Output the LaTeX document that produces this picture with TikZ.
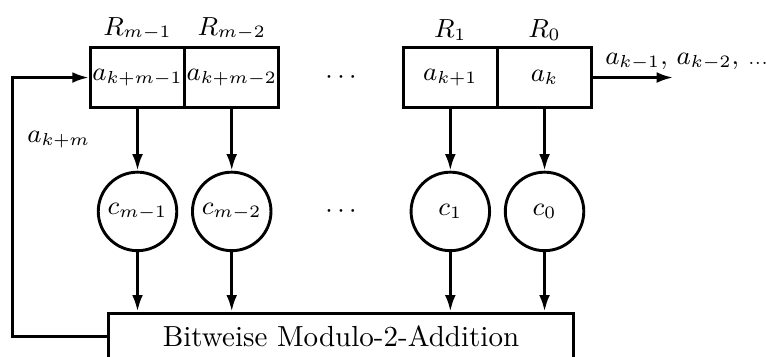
\documentclass[tikz,border=0pt]{standalone}
\usetikzlibrary{positioning,arrows.meta,calc}
\tikzset{
  regcell/.style={draw, line width=1pt, minimum width=1.14cm, minimum height=0.72cm, inner xsep=0pt, inner ysep=1pt},
  coefnode/.style={draw, circle, line width=1pt, minimum size=0.95cm, inner sep=0pt},
  sumbox/.style={draw, line width=1pt, font=\normalsize, minimum width=5.63cm, minimum height=0.56cm},
  lfarr/.style={-{Latex[length=2mm,width=1.3mm]}, line width=1pt},
}

\begin{document}
\begin{tikzpicture}[font=\small, node distance=0.75cm, label distance=-1.5pt]
  \useasboundingbox (-1.664,0.938) rectangle (7.605,-3.37);

  % Schieberegister
  \node[regcell, label={above:$R_{m-1}$}] (rm1) at (0,0) {$a_{k+m-1}$};
  \node[regcell, right=-1pt of rm1, label={above:$R_{m-2}$}] (rm2) {$a_{k+m-2}$};
  \node[regcell, right=1.47cm of rm2, label={above:$R_1$}] (r1) {$a_{k+1}$};
  \node[regcell, right=-1pt of r1, label={above:$R_0$}] (r0) {$a_k$};

  % Koeffizienten
  \node[coefnode, below=of rm1] (cm1) {$c_{m-1}$};
  \node[coefnode, below=of rm2] (cm2) {$c_{m-2}$};
  \node[coefnode, below=of r1] (c1) {$c_1$};
  \node[coefnode, below=of r0] (c0) {$c_0$};

  \node (dotsA) at ($(rm2.east)!0.5!(r1.west)$) {$\cdots$};
  \node (dotsB) at ($(cm2)!0.5!(c1)$) {$\cdots$};

  \coordinate (mid) at ($(cm1.south)!0.5!(c0.south)$);
  \node[sumbox, below=0.72cm of mid] (sum) {Bitweise Modulo-2-Addition};

  \foreach \a/\b in {rm1/cm1, rm2/cm2, r1/c1, r0/c0}
    \draw[lfarr] (\a) -- (\b);
  \foreach \c in {cm1, cm2, c1, c0}
    \draw[lfarr] (\c) -- (\c |- sum.north);

  % Ausgang
  \coordinate[right=0.97cm of r0] (out);
  \draw[lfarr] (r0.east) -- (out);
  \node[above right=0.08cm and 0.14cm of r0.east, inner sep=0pt] (outlbl) {$a_{k-1},\, a_{k-2},\, {\scriptstyle\ldots}$};

  % Rueckkopplung
  \coordinate[left=0.92cm of rm1.west] (fb);
  \draw[lfarr] (sum.west) -| (fb) -- (rm1.west);
  \node[right=0.05cm of fb, yshift=-0.75cm] (fblbl) {$a_{k+m}$};
\end{tikzpicture}
\end{document}
